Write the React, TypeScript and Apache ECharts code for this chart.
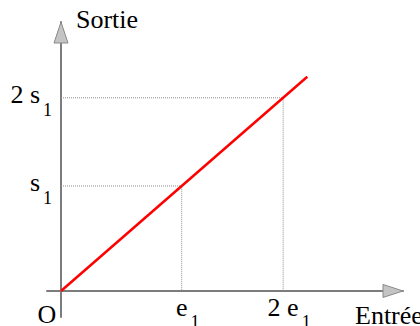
import { useEffect, useRef } from 'react';
import * as echarts from 'echarts';

// Input / output marks of the linear transfer characteristic
const inputTicks = [1, 1.84];
const inputLabels = ['e', '2 e'];
const outputTicks = [1, 1.84];
const outputLabels = ['s', '2 s'];
const labelIndex = '1';
const originLabel = 'O';
const responseX = [0, 2.04];
const responseY = [0, 2.04];
const xName = 'Entrée';
const yName = 'Sortie';

const FONT = '"Liberation Serif", "Times New Roman", serif';
const X_MIN = -0.116;
const X_MAX = 2.833;
const Y_MIN = -0.248;
const Y_MAX = 2.562;
const AXIS_COLOR = '#7c7c7c';

const findIndex = (arr: number[], v: number) =>
  arr.findIndex((t) => Math.abs(t - v) < 1e-6);

export default function App() {
  const ref = useRef<HTMLDivElement>(null);

  useEffect(() => {
    if (!ref.current) return;
    const chart = echarts.init(ref.current, null, { renderer: 'svg' });

    const main = { fontFamily: FONT, fontSize: 26, lineHeight: 26, color: '#000', verticalAlign: 'middle' };
    const sub = { fontFamily: FONT, fontSize: 18, lineHeight: 18, color: '#000', verticalAlign: 'middle', padding: [23.5, 0, 0, 3] };

    const guides = inputTicks.map((e, i) => ({
      type: 'line',
      silent: true,
      symbol: 'none',
      z: 1,
      lineStyle: { color: '#8c8c8c', width: 1, type: [1, 1] },
      data: [
        [0, outputTicks[i]],
        [e, outputTicks[i]],
        [e, 0],
      ],
    }));

    chart.setOption({
      animation: false,
      backgroundColor: '#fff',
      grid: { left: 47, right: 17, top: 22, bottom: 9, containLabel: false, outerBoundsMode: 'none' },
      xAxis: {
        type: 'value',
        min: X_MIN,
        max: X_MAX,
        name: xName,
        nameLocation: 'end',
        nameGap: -48,
        nameTextStyle: {
          fontFamily: FONT,
          fontSize: 26,
          color: '#000',
          align: 'left',
          verticalAlign: 'top',
          padding: [12, 0, 0, 0],
        },
        axisLine: { show: true, onZero: true, lineStyle: { color: AXIS_COLOR, width: 2 } },
        axisTick: { show: false },
        splitLine: { show: false },
        axisLabel: {
          customValues: [0, ...inputTicks],
          margin: -20,
          formatter: (v: number) => {
            if (Math.abs(v) < 1e-6) return `{o|${originLabel}}`;
            const i = findIndex(inputTicks, v);
            return i < 0 ? '' : `{m|${inputLabels[i]}}{s|${labelIndex}}`;
          },
          rich: {
            m: { ...main, padding: [0, 0, 6, 12] },
            s: sub,
            o: { fontFamily: FONT, fontSize: 26, lineHeight: 26, color: '#000', verticalAlign: 'middle', padding: [8.5, 28, 0, 0] },
          },
        },
      },
      yAxis: {
        type: 'value',
        min: Y_MIN,
        max: Y_MAX,
        name: yName,
        nameLocation: 'end',
        nameGap: 3,
        nameTextStyle: {
          fontFamily: FONT,
          fontSize: 26,
          color: '#000',
          align: 'left',
          verticalAlign: 'middle',
          padding: [0, 0, 0, 15],
        },
        axisLine: { show: true, onZero: true, lineStyle: { color: AXIS_COLOR, width: 2 } },
        axisTick: { show: false },
        splitLine: { show: false },
        axisLabel: {
          customValues: outputTicks,
          margin: -5,
          formatter: (v: number) => {
            const i = findIndex(outputTicks, v);
            return i < 0 ? '' : `{m|${outputLabels[i]}}{s|${labelIndex}}`;
          },
          rich: {
            m: { ...main, padding: [0, 0, 6, 0] },
            s: sub,
          },
        },
      },
      series: [
        ...guides,
        {
          type: 'line',
          silent: true,
          symbol: 'none',
          z: 3,
          lineStyle: { color: '#ff0000', width: 2.5 },
          data: responseX.map((x, i) => [x, responseY[i]]),
        },
      ],
    });

    // Arrow heads at the ends of both axes
    const xEnd = chart.convertToPixel({ xAxisIndex: 0, yAxisIndex: 0 }, [X_MAX, 0]) as number[];
    const yEnd = chart.convertToPixel({ xAxisIndex: 0, yAxisIndex: 0 }, [0, Y_MAX]) as number[];
    const arrowStyle = { fill: '#c4c4c4', stroke: '#8a8a8a', lineWidth: 1 };
    chart.setOption({
      graphic: [
        {
          type: 'polygon',
          z: 10,
          shape: { points: [[xEnd[0], xEnd[1]], [xEnd[0] - 20, xEnd[1] - 6.5], [xEnd[0] - 20, xEnd[1] + 6.5]] },
          style: arrowStyle,
        },
        {
          type: 'polygon',
          z: 10,
          shape: { points: [[yEnd[0], yEnd[1]], [yEnd[0] - 7, yEnd[1] + 21], [yEnd[0] + 7, yEnd[1] + 21]] },
          style: arrowStyle,
        },
      ],
    });

    return () => chart.dispose();
  }, []);

  return (
    <div
      ref={ref}
      style={{ position: 'fixed', left: 0, top: 0, width: 420, height: 326, background: '#fff' }}
    />
  );
}
